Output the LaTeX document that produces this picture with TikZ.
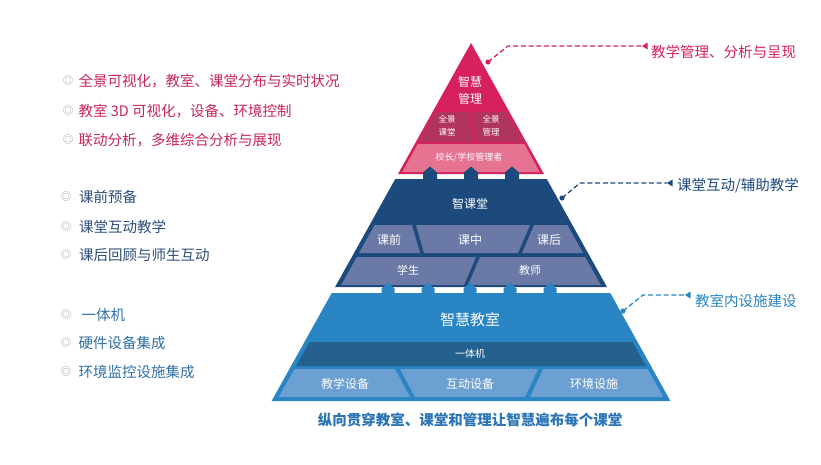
\documentclass[tikz,border=0pt]{standalone}
\usepackage{fontspec}
\setmainfont{Noto Sans CJK SC}
\definecolor{pk}{HTML}{D6215D}
\definecolor{pkd}{HTML}{B0345C}
\definecolor{pkl}{HTML}{E57391}
\definecolor{db}{HTML}{1C4A7D}
\definecolor{sl}{HTML}{6A79A5}
\definecolor{lb}{HTML}{2985C3}
\definecolor{lbd}{HTML}{25618F}
\definecolor{lbc}{HTML}{6CA0D2}
\definecolor{capc}{HTML}{2B74B5}
\definecolor{ga}{HTML}{C8245F}
\definecolor{gb}{HTML}{2D4D7A}
\definecolor{gc}{HTML}{2F70A8}
\definecolor{bulc}{HTML}{9A9AA6}
\begin{document}
\begin{tikzpicture}[x=1pt,y=-1pt,
  wt/.style={text=white,inner sep=0pt},
  fs/.style={font=\fontsize{#1}{#1}\selectfont},
  lst/.style={anchor=west,inner sep=0pt,font=\fontsize{14.5}{16}\selectfont},
  bul/.style={inner sep=0pt,text=bulc,font=\fontsize{10.5}{10.5}\selectfont},
  lead/.style={dash pattern=on 5pt off 2.7pt,line width=1.3pt},
  lbl/.style={anchor=west,inner sep=0pt,font=\fontsize{14.5}{16}\selectfont}]
\useasboundingbox (0,0) rectangle (821,464);
\fill[white] (0,0) rectangle (821,464);

% ---------- pink layer
\fill[pk] (471,43) -- (398.03,174) -- (543.97,174) -- cycle;
\fill[pkd] (435.6,112) -- (468.5,112) -- (474.5,142) -- (418.9,142) -- cycle;
\fill[pkd] (471.5,112) -- (506.4,112) -- (523.1,142) -- (477.5,142) -- cycle;
\fill[pkl] (417.7,144) -- (524.3,144) -- (539.8,172) -- (402.2,172) -- cycle;

% ---------- dark blue layer
\fill[db] (395.25,179) -- (546.75,179) -- (606.91,287) -- (335.09,287) -- cycle;
\fill[sl] (374.6,225) -- (412,225) -- (420,253) -- (359.0,253) -- cycle;
\fill[sl] (416,225) -- (530,225) -- (518,253) -- (424,253) -- cycle;
\fill[sl] (534,225) -- (567.4,225) -- (583.0,253) -- (522,253) -- cycle;
\fill[sl] (356.8,257) -- (476,257) -- (464,285) -- (341.2,285) -- cycle;
\fill[sl] (480,257) -- (585.2,257) -- (600.8,285) -- (468,285) -- cycle;
\foreach \x in {430,471,512}
  \fill[db] (\x-7,180) -- (\x-7,172.5) -- (\x,166.5) -- (\x+7,172.5) -- (\x+7,180) -- cycle;

% ---------- light blue layer
\fill[lb] (331.75,293) -- (610.25,293) -- (670.41,401) -- (271.59,401) -- cycle;
\fill[lbd] (309.5,342) -- (632.5,342) -- (645.9,366) -- (296.1,366) -- cycle;
\fill[lbc] (294.4,369) -- (395,369) -- (410,397) -- (278.8,397) -- cycle;
\fill[lbc] (400,369) -- (538,369) -- (525,397) -- (415,397) -- cycle;
\fill[lbc] (543,369) -- (647.6,369) -- (663.2,397) -- (530,397) -- cycle;
\foreach \x in {388,428,470,510,550}
  \fill[lb] (\x-6.5,294) -- (\x-6.5,288.5) -- (\x,282.7) -- (\x+6.5,288.5) -- (\x+6.5,294) -- cycle;

% ---------- pyramid texts
\node[wt,fs=12] (zh1) at (470,82) {智慧};
\node[wt,fs=12] (zh2) at (470,99) {管理};
\node[wt,fs=8.5] (qj1) at (447,119) {全景};
\node[wt,fs=8.5] (qj2) at (447,132) {课堂};
\node[wt,fs=8.5] (qj3) at (491,119) {全景};
\node[wt,fs=8.5] (qj4) at (491,132) {管理};
\node[wt,fs=9] (xz) at (469,157.5) {校长/学校管理者};
\node[wt,fs=12] (zkt) at (470,203.5) {智课堂};
\node[wt,fs=12] (kq) at (389,240) {课前};
\node[wt,fs=12] (kz) at (470,240) {课中};
\node[wt,fs=12] (kh) at (549,240) {课后};
\node[wt,fs=11] (xs) at (408,270.5) {学生};
\node[wt,fs=11] (js) at (530,270.5) {教师};
\node[wt,fs=15] (zhjs) at (470,320) {智慧教室};
\node[wt,fs=10] (ytj) at (470,354) {一体机};
\node[wt,fs=12] (jxsb) at (345,383.5) {教学设备};
\node[wt,fs=12] (hdsb) at (470,383.5) {互动设备};
\node[wt,fs=12] (hjss) at (594,383.5) {环境设施};

\node[inner sep=0pt,text=capc,font=\fontsize{14.5}{16}\selectfont\bfseries] (cap) at (470,420) {纵向贯穿教室、课堂和管理让智慧遍布每个课堂};

% ---------- right labels with leaders
\node[lbl,text=pk] (r1) at (651,52) {教学管理、分析与呈现};
\node[lbl,text=db] (r2) at (677,186) {课堂互动/辅助教学};
\node[lbl,text=lb] (r3) at (695,300.5) {教室内设施建设};

\coordinate (d1) at (488,62);   \coordinate (k1) at (508,46);  \coordinate (e1) at (642,46);
\coordinate (d2) at (562,198);  \coordinate (k2) at (580,183); \coordinate (e2) at (667,183);
\coordinate (d3) at (623,311);  \coordinate (k3) at (643,295); \coordinate (e3) at (685,295);

\draw[pk,lead] (d1) -- (k1) -- (e1);
\fill[pk] (d1) circle (2.6);
\fill[pk] (e1) -- ++(5.5,-3.5) -- ++(0,7) -- cycle;
\draw[db,lead] (d2) -- (k2) -- (e2);
\fill[db] (d2) circle (2.6);
\fill[db] (e2) -- ++(5.5,-3.5) -- ++(0,7) -- cycle;
\draw[lb,lead] (d3) -- (k3) -- (e3);
\fill[lb] (d3) circle (2.6);
\fill[lb] (e3) -- ++(5.5,-3.5) -- ++(0,7) -- cycle;

% ---------- left lists
\node[bul] (ba1) at (68,81) {◎};
\node[lst,text=ga] (ta1) at (78.5,81) {全景可视化，教室、课堂分布与实时状况};
\node[bul] (ba2) at (68,111) {◎};
\node[lst,text=ga] (ta2) at (78.5,111) {教室 3D 可视化，设备、环境控制};
\node[bul] (ba3) at (68,140) {◎};
\node[lst,text=ga] (ta3) at (78.5,140) {联动分析，多维综合分析与展现};

\node[bul] (bb1) at (66,197) {◎};
\node[lst,text=gb] (tb1) at (79,197) {课前预备};
\node[bul] (bb2) at (66,227) {◎};
\node[lst,text=gb] (tb2) at (79,227) {课堂互动教学};
\node[bul] (bb3) at (66,255) {◎};
\node[lst,text=gb] (tb3) at (79,255) {课后回顾与师生互动};

\node[bul] (bc1) at (66,315) {◎};
\node[lst,text=gc] (tc1) at (81.5,315) {一体机};
\node[bul] (bc2) at (66,343) {◎};
\node[lst,text=gc] (tc2) at (78.5,343) {硬件设备集成};
\node[bul] (bc3) at (66,372) {◎};
\node[lst,text=gc] (tc3) at (78.5,372) {环境监控设施集成};
\end{tikzpicture}
\end{document}
